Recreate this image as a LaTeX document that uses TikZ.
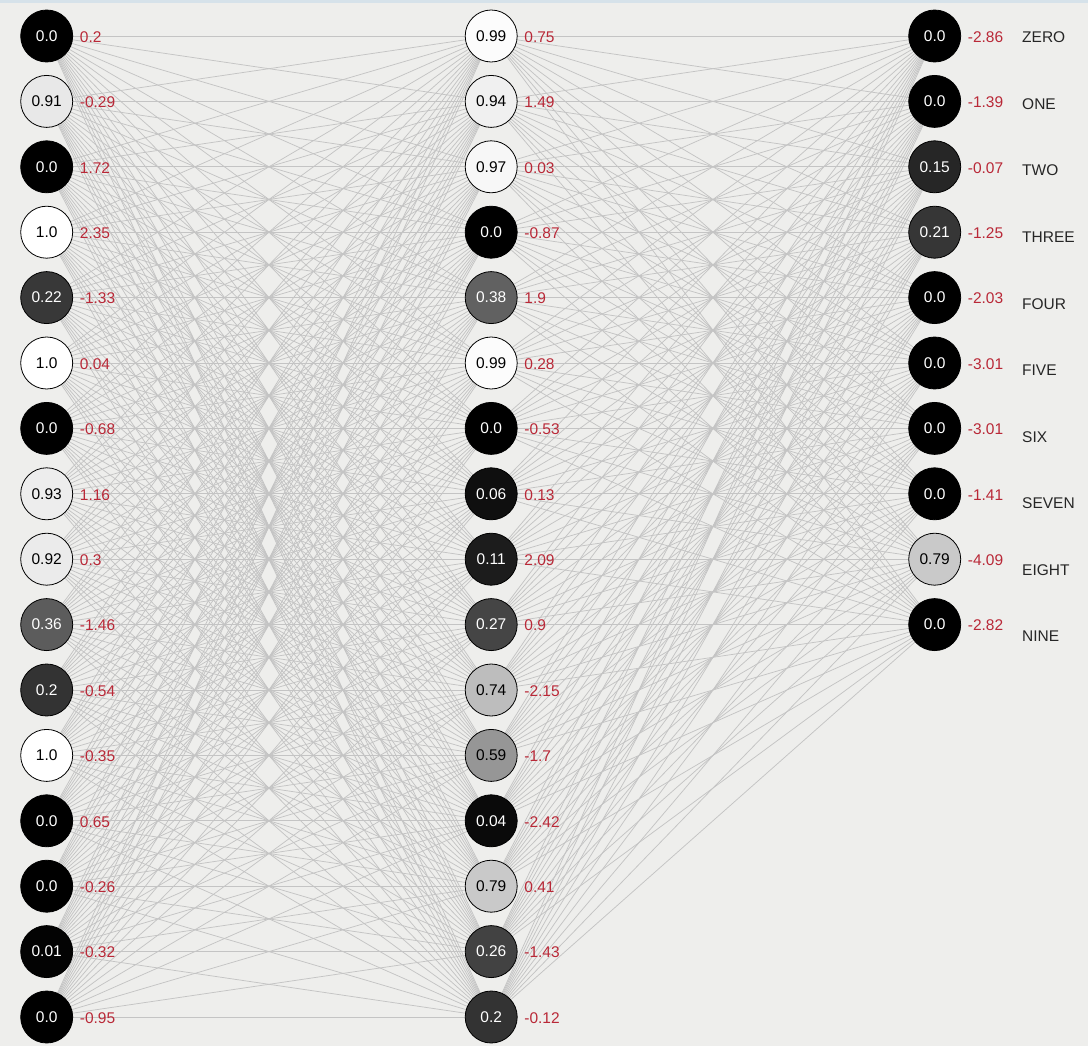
\documentclass[tikz,border=0pt]{standalone}
\usepackage{fontspec}
\setmainfont{Liberation Sans}
\definecolor{bgc}{HTML}{EEEEEC}
\definecolor{topbar}{HTML}{D6E2EA}
\definecolor{edgec}{HTML}{C4C4C4}
\definecolor{biasc}{RGB}{185,40,55}
\pgfdeclarelayer{bglayer}
\pgfdeclarelayer{edgelayer}
\pgfsetlayers{bglayer,edgelayer,main}
\tikzset{
  neuron/.style={circle, draw=black, line width=0.8pt, minimum size=52pt, inner sep=0pt, font=\fontsize{15.5}{18}\selectfont},
  biaslabel/.style={anchor=west, inner sep=0pt, text=biasc, font=\fontsize{15.5}{18}\selectfont},
  namelabel/.style={anchor=west, inner sep=0pt, text=black!85, font=\fontsize{15.5}{18}\selectfont},
  edge/.style={draw=edgec, line width=0.75pt}
}
\begin{document}
\begin{tikzpicture}[x=1pt,y=-1pt]
\begin{pgfonlayer}{bglayer}
\fill[bgc] (0,0) rectangle (1088,1046);
\fill[topbar] (0,0) rectangle (1088,3);
\end{pgfonlayer}
\useasboundingbox (0,0) rectangle (1088,1046);
% input layer
\foreach \v/\b [count=\i from 0] in {0.0/0.2,0.91/-0.29,0.0/1.72,1.0/2.35,0.22/-1.33,1.0/0.04,0.0/-0.68,0.93/1.16,0.92/0.3,0.36/-1.46,0.2/-0.54,1.0/-0.35,0.0/0.65,0.0/-0.26,0.01/-0.32,0.0/-0.95}{
  \pgfmathtruncatemacro\g{round(100*\v)}
  \pgfmathtruncatemacro\dark{\v<0.5}
  \ifnum\dark=1 \def\tcol{white}\else\def\tcol{black}\fi
  \node[neuron, fill=white!\g!black, text=\tcol] (In\i) at (46.7,36+65.4*\i) {\v};
  \node[biaslabel] (Ib\i) at (79.7,37+65.4*\i) {\b};
}
% hidden layer
\foreach \v/\b [count=\i from 0] in {0.99/0.75,0.94/1.49,0.97/0.03,0.0/-0.87,0.38/1.9,0.99/0.28,0.0/-0.53,0.06/0.13,0.11/2.09,0.27/0.9,0.74/-2.15,0.59/-1.7,0.04/-2.42,0.79/0.41,0.26/-1.43,0.2/-0.12}{
  \pgfmathtruncatemacro\g{round(100*\v)}
  \pgfmathtruncatemacro\dark{\v<0.5}
  \ifnum\dark=1 \def\tcol{white}\else\def\tcol{black}\fi
  \node[neuron, fill=white!\g!black, text=\tcol] (Hn\i) at (491.2,36+65.4*\i) {\v};
  \node[biaslabel] (Hb\i) at (524.2,37+65.4*\i) {\b};
}
% output layer
\foreach \v/\b/\n [count=\i from 0] in {0.0/-2.86/ZERO,0.0/-1.39/ONE,0.15/-0.07/TWO,0.21/-1.25/THREE,0.0/-2.03/FOUR,0.0/-3.01/FIVE,0.0/-3.01/SIX,0.0/-1.41/SEVEN,0.79/-4.09/EIGHT,0.0/-2.82/NINE}{
  \pgfmathtruncatemacro\g{round(100*\v)}
  \pgfmathtruncatemacro\dark{\v<0.5}
  \ifnum\dark=1 \def\tcol{white}\else\def\tcol{black}\fi
  \node[neuron, fill=white!\g!black, text=\tcol] (On\i) at (934.7,36+65.4*\i) {\v};
  \node[biaslabel] (Ob\i) at (967.7,37+65.4*\i) {\b};
  \node[namelabel] (Nm\i) at (1022,37.5+66.55*\i) {\n};
}
% connectors
\begin{pgfonlayer}{edgelayer}
\foreach \i in {0,...,15}{
  \foreach \j in {0,...,15}{
    \draw[edge] (In\i.center) -- (Hn\j.center);
  }
  \foreach \j in {0,...,9}{
    \draw[edge] (Hn\i.center) -- (On\j.center);
  }
}
\end{pgfonlayer}
\end{tikzpicture}
\end{document}
